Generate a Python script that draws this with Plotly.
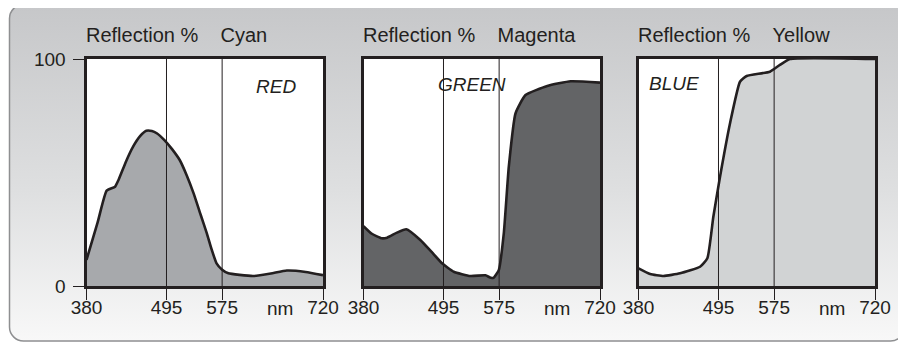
import base64
import plotly.graph_objects as go

# ---------------- data ----------------
tick_nm = [380, 495, 575, 720]
tick_text = ["380", "495", "575", "720"]
band_edges = [495, 575]

cyan_nm = [380, 396, 409, 421, 426, 437, 447, 457, 466, 474, 481, 492, 503, 514, 524, 534, 544, 553, 560, 567, 575, 584, 600, 620, 645, 668, 695, 720]
cyan_val = [11.5, 28, 42, 43.7, 46.7, 55, 61.4, 66, 68.4, 68.3, 67.3, 64.3, 60.3, 55.5, 48.8, 40.8, 31.5, 23.2, 16, 10, 7.2, 5.6, 4.9, 4.4, 5.5, 6.8, 6.2, 4.8]

magenta_nm = [380, 392, 406.5, 414, 428, 441.5, 461.7, 478, 493, 509.7, 533.7, 555.3, 563, 567.3, 574.5, 581.7, 588.9, 598.5, 612.9, 644.2, 677.8, 720]
magenta_val = [26.4, 23, 21, 21.3, 23.5, 25, 20.3, 15, 10, 6.3, 4.4, 4.7, 3.6, 3.7, 7, 23.2, 52.6, 76, 84.1, 88.1, 90.2, 89.6]

yellow_nm = [380, 396.8, 415.9, 439.8, 468.5, 479, 487.6, 497.2, 511.6, 525.9, 535.5, 568.9, 583.3, 597.6, 720]
yellow_val = [7.8, 5.3, 4.4, 5.6, 8.5, 12.2, 30.5, 48.1, 71.7, 90, 92.5, 94.4, 97.4, 100, 100]

panel_titles = ["Reflection %\u00a0\u00a0\u00a0\u00a0Cyan", "Reflection %\u00a0\u00a0\u00a0\u00a0Magenta", "Reflection %\u00a0\u00a0\u00a0\u00a0Yellow"]
panel_labels = ["RED", "GREEN", "BLUE"]
y_ticks = [0, 100]
y_tick_text = ["0", "100"]

# ---------------- style ----------------
W, H = 906, 342
OX, OY = 8, 8          # page body margin offset of the figure inside the window
INK = "#231f20"
FONT = "Liberation Sans, Arial, Helvetica, sans-serif"
fills = ["#a7a9ac", "#636466", "#d1d3d4"]
px_domains = [(86.5, 323), (363.5, 600), (638.5, 875)]   # screen px
y_top, y_bot = 59, 286                                     # screen px


def fx(px):
    return (px - OX) / W


def fy(py):
    return (H - (py - OY)) / H


y_dom = (fy(y_bot), fy(y_top))
label_pos = [(0.80, 86), (0.457, 84.5), (0.148, 83.5)]

svg = (
    f'<svg xmlns="http://www.w3.org/2000/svg" width="{W}" height="{H}" viewBox="0 0 {W} {H}">'
    '<defs><linearGradient id="g" x1="0" y1="0" x2="0" y2="1">'
    '<stop offset="0" stop-color="#c6c7c9"/><stop offset="0.55" stop-color="#dedfe0"/>'
    '<stop offset="1" stop-color="#f8f8f8"/></linearGradient></defs>'
    f'<rect x="{9.5 - OX}" y="{4.5 - OY}" width="{W - 11}" height="{H - 5.5}" rx="14" ry="14" fill="url(#g)" '
    'stroke="#8e8f91" stroke-width="1.5"/></svg>'
)
bg_src = "data:image/svg+xml;base64," + base64.b64encode(svg.encode()).decode()

fig = go.Figure()

series = [(cyan_nm, cyan_val), (magenta_nm, magenta_val), (yellow_nm, yellow_val)]
shapes = []
annotations = []
for i, (xs, ys) in enumerate(series):
    n = "" if i == 0 else str(i + 1)
    fig.add_trace(go.Scatter(
        x=xs, y=ys, mode="lines", fill="tozeroy", fillcolor=fills[i],
        line=dict(color=INK, width=2.6, shape="spline", smoothing=0.45),
        xaxis="x" + n, yaxis="y" + n, showlegend=False, hoverinfo="skip",
    ))
    d0, d1 = px_domains[i]
    fig.update_layout(**{
        "xaxis" + n: dict(
            domain=[fx(d0), fx(d1)], range=[380, 720], anchor="y" + n,
            tickmode="array", tickvals=tick_nm, ticktext=tick_text,
            ticks="outside", ticklen=11, tickwidth=1.2, tickcolor=INK,
            ticklabelstandoff=-9,
            showline=True, mirror=True, linewidth=3, linecolor=INK,
            showgrid=False, zeroline=False, fixedrange=True, automargin=False,
            tickfont=dict(family=FONT, size=19, color=INK),
        ),
        "yaxis" + n: dict(
            domain=list(y_dom), range=[0, 100], anchor="x" + n,
            tickmode="array", tickvals=y_ticks, ticktext=y_tick_text,
            ticks="outside" if i == 0 else "", ticklen=11, tickwidth=1.2, tickcolor=INK,
            showticklabels=(i == 0), ticklabelstandoff=3,
            showline=True, mirror=True, linewidth=3, linecolor=INK,
            showgrid=False, zeroline=False, fixedrange=True, automargin=False,
            tickfont=dict(family=FONT, size=19, color=INK),
        ),
    })
    # white plot background above the gradient image
    shapes.append(dict(type="rect", xref="x" + n + " domain", yref="y" + n + " domain",
                       x0=0, x1=1, y0=0, y1=1, fillcolor="white", line_width=0, layer="below"))
    for e in band_edges:
        shapes.append(dict(type="line", xref="x" + n, yref="y" + n + " domain",
                           x0=e, x1=e, y0=0, y1=1, line=dict(color=INK, width=1), layer="above"))
    annotations.append(dict(text=panel_titles[i], xref="x" + n + " domain", yref="paper",
                            x=0, y=fy(35), xanchor="left", yanchor="middle", showarrow=False,
                            xshift=-3, font=dict(family=FONT, size=20, color=INK)))
    lx, ly = label_pos[i]
    annotations.append(dict(text="<i>" + panel_labels[i] + "</i>", xref="x" + n + " domain", yref="paper",
                            x=lx, y=fy(ly), xanchor="center", yanchor="middle", showarrow=False,
                            font=dict(family=FONT, size=19, color=INK)))
    annotations.append(dict(text="nm", xref="x" + n + " domain", yref="paper",
                            x=0.818, y=fy(308), xanchor="center", yanchor="middle", showarrow=False,
                            font=dict(family=FONT, size=19, color=INK)))

fig.update_layout(
    width=W, height=H, margin=dict(l=0, r=0, t=0, b=0, pad=0, autoexpand=False),
    paper_bgcolor="white", plot_bgcolor="rgba(0,0,0,0)",
    images=[dict(source=bg_src, xref="paper", yref="paper", x=0, y=1, sizex=1, sizey=1,
                 xanchor="left", yanchor="top", sizing="stretch", layer="below")],
    shapes=shapes, annotations=annotations,
)

fig.write_html("out.html")
